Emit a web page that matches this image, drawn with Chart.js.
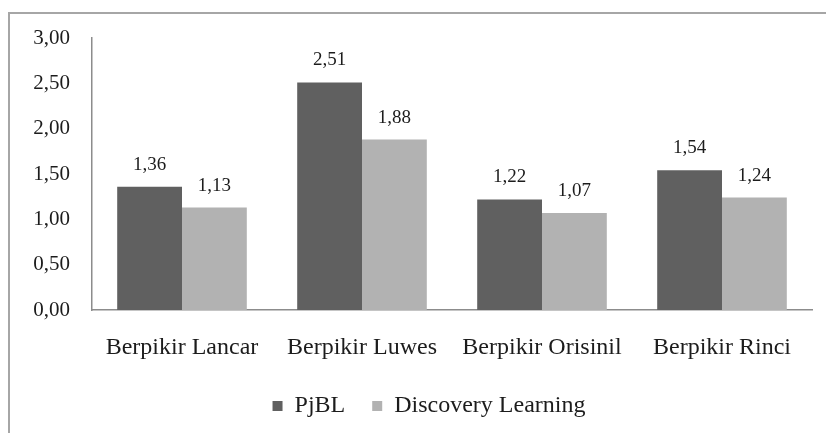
<!DOCTYPE html>
<html>
<head>
<meta charset="utf-8">
<script src="https://cdn.jsdelivr.net/npm/chart.js@4"></script>
<style>
  html, body { margin: 0; padding: 0; background: #fff; overflow: hidden; }
  #frame { position: absolute; left: 8px; top: 12px; width: 900px; height: 500px; border: 2px solid #a6a6a6; }
  #wrap { position: absolute; left: 0; top: 0; width: 826px; height: 433px; }
</style>
</head>
<body>
<div id="frame"></div>
<div id="wrap"><canvas id="barChart"></canvas></div>
<script>
// values
const categories = ['Berpikir Lancar', 'Berpikir Luwes', 'Berpikir Orisinil', 'Berpikir Rinci'];
const pjblValues = [1.36, 2.51, 1.22, 1.54];
const discoveryValues = [1.13, 1.88, 1.07, 1.24];
const seriesNames = ['PjBL', 'Discovery Learning'];

const serif = '"Liberation Serif", "Times New Roman", serif';
const textColor = '#1c1c1c';

function fmt(v) {
  return v.toFixed(2).replace('.', ',');
}

// value labels above each bar
const valueLabels = {
  id: 'valueLabels',
  afterDatasetsDraw(chart) {
    const ctx = chart.ctx;
    ctx.save();
    ctx.font = '19px ' + serif;
    ctx.fillStyle = textColor;
    ctx.textAlign = 'center';
    ctx.textBaseline = 'middle';
    chart.data.datasets.forEach((ds, i) => {
      chart.getDatasetMeta(i).data.forEach((bar, j) => {
        ctx.fillText(fmt(ds.data[j]), bar.x, bar.y - 22);
      });
    });
    ctx.restore();
  }
};

// legend in the original sits a bit right of the canvas centre
const legendShift = {
  id: 'legendShift',
  afterLayout(chart) {
    chart.legend.left += 13;
    chart.legend.right += 13;
  }
};

const ctx = document.getElementById('barChart').getContext('2d');
new Chart(ctx, {
  type: 'bar',
  data: {
    labels: categories,
    datasets: [{
      label: seriesNames[0],
      data: pjblValues,
      backgroundColor: '#606060',
      categoryPercentage: 0.72,
      barPercentage: 1.0
    }, {
      label: seriesNames[1],
      data: discoveryValues,
      backgroundColor: '#b2b2b2',
      categoryPercentage: 0.72,
      barPercentage: 1.0
    }]
  },
  options: {
    responsive: true,
    maintainAspectRatio: false,
    animation: false,
    layout: {
      padding: { left: 20, right: 14, top: 38, bottom: 5 }
    },
    plugins: {
      tooltip: { enabled: false },
      legend: {
        position: 'bottom',
        labels: {
          boxWidth: 10,
          boxHeight: 10,
          padding: 27,
          color: textColor,
          font: { family: serif, size: 24 }
        }
      }
    },
    scales: {
      x: {
        grid: { display: false, drawTicks: false },
        border: { display: true, color: '#8c8c8c', width: 1.5 },
        ticks: {
          padding: 23,
          color: textColor,
          font: { family: serif, size: 24 }
        },
        afterFit(scale) { scale.height = 57; }
      },
      y: {
        min: 0,
        max: 3,
        grid: { display: false, drawTicks: false },
        border: { display: true, color: '#8c8c8c', width: 1.5 },
        ticks: {
          stepSize: 0.5,
          padding: 22,
          color: textColor,
          font: { family: serif, size: 21 },
          callback: (v) => fmt(v)
        },
        afterFit(scale) { scale.width = 72; }
      }
    }
  },
  plugins: [valueLabels, legendShift]
});
</script>
</body>
</html>
